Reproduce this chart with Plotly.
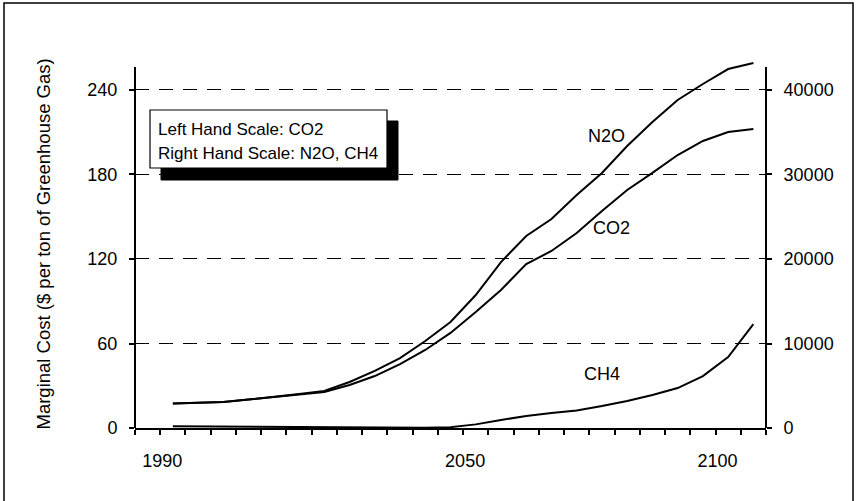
import plotly.graph_objects as go

# ---- data ----
years = [1992.5, 1997.5, 2002.5, 2007.5, 2012.5, 2017.5, 2022.5, 2027.5, 2032.5, 2037.5,
         2042.5, 2047.5, 2052.5, 2057.5, 2062.5, 2067.5, 2072.5, 2077.5, 2082.5, 2087.5,
         2092.5, 2097.5, 2102.5, 2107.5]
co2 = [17.4, 17.8, 18.5, 20.2, 22.0, 23.8, 25.6, 30.5, 36.9, 45.4,
       55.4, 67.5, 82.4, 98.0, 116.4, 125.7, 138.5, 154.1, 169.0, 181.1,
       193.8, 203.8, 210.2, 212.3]
n2o = [2900, 2960, 3080, 3370, 3670, 4020, 4380, 5440, 6750, 8280,
       10300, 12540, 15740, 19640, 22720, 24730, 27570, 30180, 33370, 36210,
       38820, 40710, 42480, 43190]
ch4 = [200, 180, 150, 120, 80, 50, 30, 20, 20, 20,
       30, 100, 430, 950, 1420, 1780, 2070, 2600, 3200, 3900,
       4730, 6150, 8400, 12300]

x_tick_years = list(range(1985, 2111, 5))
x_labels = {1990: "1990", 2050: "2050", 2100: "2100"}
left_ticks = [0, 60, 120, 180, 240]
right_ticks = [0, 10000, 20000, 30000, 40000]
right_tick_text = ["0", "10000", "20000", "30000", "40000"]

# ---- layout geometry (pixels) ----
W, H = 856, 501
L, R, T, B = 135, 766, 59, 428
PW, PH = R - L, B - T
left_top = 262.0
right_top = left_top * 40000 / 240

def px(x):
    return (x - L) / PW

def py(y):
    return (B - y) / PH

FONT = "Liberation Sans, Arial, Helvetica, sans-serif"

fig = go.Figure()
line_style = dict(color="black", width=2)
fig.add_trace(go.Scatter(x=years, y=co2, mode="lines", line=line_style, name="CO2", yaxis="y"))
fig.add_trace(go.Scatter(x=years, y=n2o, mode="lines", line=line_style, name="N2O", yaxis="y2"))
fig.add_trace(go.Scatter(x=years, y=ch4, mode="lines", line=line_style, name="CH4", yaxis="y2"))

shapes = [
    # outer frame (bottom edge lies below the visible area)
    dict(type="rect", xref="paper", yref="paper", x0=px(4), x1=px(853), y0=py(3), y1=py(506),
         line=dict(color="black", width=1.5), layer="below"),
    # axis lines
    dict(type="line", xref="paper", yref="paper", x0=0, x1=0, y0=0, y1=py(67),
         line=dict(color="black", width=2)),
    dict(type="line", xref="paper", yref="paper", x0=1, x1=1, y0=0, y1=py(67),
         line=dict(color="black", width=2)),
    # legend box shadow and box
    dict(type="rect", xref="paper", yref="paper", x0=px(161), x1=px(398), y0=py(121), y1=py(180),
         fillcolor="black", line=dict(color="black", width=1)),
    dict(type="rect", xref="paper", yref="paper", x0=px(150), x1=px(387), y0=py(110), y1=py(168),
         fillcolor="white", line=dict(color="black", width=1.2)),
]

annotations = [
    dict(text="Left Hand Scale: CO2", x=px(156), y=py(129), xref="paper", yref="paper",
         xanchor="left", yanchor="middle", showarrow=False, font=dict(size=17, family=FONT, color="black")),
    dict(text="Right Hand Scale: N2O, CH4", x=px(156), y=py(153), xref="paper", yref="paper",
         xanchor="left", yanchor="middle", showarrow=False, font=dict(size=17, family=FONT, color="black")),
    dict(text="N2O", x=px(627), y=py(124), xref="paper", yref="paper", showarrow=False,
         font=dict(size=18, family=FONT, color="black")),
    dict(text="CO2", x=px(632), y=py(228), xref="paper", yref="paper", showarrow=False,
         font=dict(size=18, family=FONT, color="black")),
    dict(text="CH4", x=px(622), y=py(386), xref="paper", yref="paper", showarrow=False,
         font=dict(size=18, family=FONT, color="black")),
    dict(text="Marginal Cost ($ per ton of Greenhouse Gas)", x=px(31), y=py(244),
         xref="paper", yref="paper", textangle=-90, showarrow=False,
         font=dict(size=18.5, family=FONT, color="black")),
]

fig.update_layout(
    width=W, height=H,
    margin=dict(l=L, r=W - R, t=T, b=H - B, pad=0),
    paper_bgcolor="white", plot_bgcolor="white",
    showlegend=False,
    font=dict(family=FONT, size=18, color="black"),
    xaxis=dict(
        range=[1985, 2110], tickmode="array", tickvals=x_tick_years,
        ticktext=[x_labels.get(y, "") for y in x_tick_years],
        ticks="outside", ticklen=5, tickwidth=1.5, tickcolor="black",
        showline=True, linecolor="black", linewidth=2,
        showgrid=False, zeroline=False, ticklabelstandoff=10, ticklabelshift=2,
        tickfont=dict(size=18, family=FONT),
    ),
    yaxis=dict(
        range=[0, left_top], tickmode="array", tickvals=left_ticks,
        ticks="outside", ticklen=5, tickwidth=1.5, tickcolor="black",
        showline=False, zeroline=False,
        showgrid=True, gridcolor="black", gridwidth=1, griddash="14px,10px",
        ticklabelstandoff=8, tickfont=dict(size=18, family=FONT),
    ),
    yaxis2=dict(
        range=[0, right_top], tickmode="array", tickvals=right_ticks, ticktext=right_tick_text,
        overlaying="y", side="right",
        ticks="outside", ticklen=5, tickwidth=1.5, tickcolor="black",
        showline=False, zeroline=False, showgrid=False,
        ticklabelstandoff=8, tickfont=dict(size=18, family=FONT),
    ),
    shapes=shapes,
    annotations=annotations,
)

fig.write_html("out.html", config={"displayModeBar": False},
               post_script="document.body.style.margin='0';")
